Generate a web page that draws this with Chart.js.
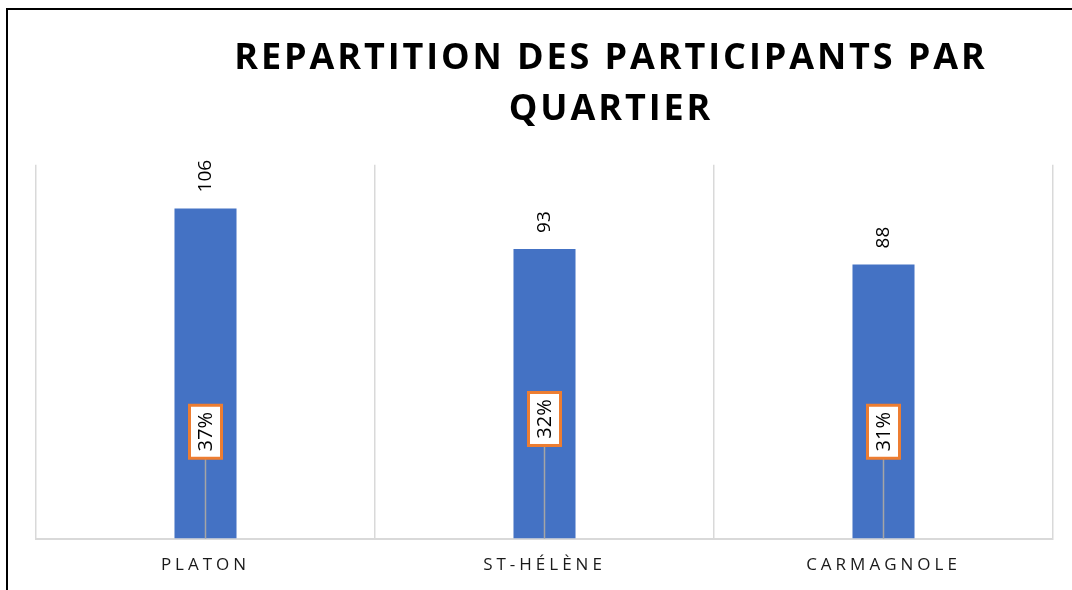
<!DOCTYPE html>
<html>
<head>
<meta charset="utf-8">
<script src="https://cdn.jsdelivr.net/npm/chart.js@4/dist/chart.umd.min.js"></script>
<style>
html, body { margin:0; padding:0; background:#fff; overflow:hidden; width:1072px; height:590px; }
#frame { position:absolute; left:6px; top:8px; border-left:2px solid #000; border-top:2px solid #000; width:1206px; height:582px; }
</style>
</head>
<body>
<div id="frame"><canvas id="myChart" width="1206" height="582"></canvas></div>
<script>
const quartiers = ['PLATON', 'ST-HÉLÈNE', 'CARMAGNOLE']
const participants = [106, 93, 88]
const pourcentages = ['37%', '32%', '31%']
const titre = ['REPARTITION DES PARTICIPANTS PAR', 'QUARTIER']

// where the percentage boxes sit, in axis units (center of the box)
const boxAt = [34.3, 38.4, 34.3]

const labels = {
  id: 'labels',
  beforeDraw(chart) { chart.ctx.letterSpacing = '2.9px' },
  beforeDatasetsDraw(chart) { chart.ctx.letterSpacing = '0px' },
  afterDatasetsDraw(chart) {
    const ctx = chart.ctx
    const y = chart.scales.y
    const base = y.getPixelForValue(0)
    chart.getDatasetMeta(0).data.forEach((bar, i) => {
      // value above the bar
      ctx.save()
      ctx.letterSpacing = '0px'
      ctx.font = '19px "Open Sans"'
      ctx.fillStyle = '#000'
      ctx.translate(bar.x, bar.y - 16)
      ctx.rotate(-Math.PI / 2)
      ctx.textAlign = 'left'
      ctx.textBaseline = 'middle'
      ctx.fillText(String(participants[i]), 0, 0)
      ctx.restore()

      // percentage box with leader line
      const cy = y.getPixelForValue(boxAt[i])
      const w = 32, h = 53
      ctx.save()
      ctx.letterSpacing = '0px'
      ctx.strokeStyle = '#a5a5a5'
      ctx.lineWidth = 1.5
      ctx.beginPath()
      ctx.moveTo(bar.x, cy + h / 2)
      ctx.lineTo(bar.x, base)
      ctx.stroke()
      ctx.fillStyle = '#fff'
      ctx.fillRect(bar.x - w / 2, cy - h / 2, w, h)
      ctx.strokeStyle = '#ED7D31'
      ctx.lineWidth = 3
      ctx.strokeRect(bar.x - w / 2, cy - h / 2, w, h)
      ctx.font = '20px "Open Sans"'
      ctx.fillStyle = '#000'
      ctx.translate(bar.x, cy)
      ctx.rotate(-Math.PI / 2)
      ctx.textAlign = 'center'
      ctx.textBaseline = 'middle'
      ctx.fillText(pourcentages[i], 0, 1)
      ctx.restore()
    })
    ctx.letterSpacing = '4px'
  },
  afterDraw(chart) { chart.ctx.letterSpacing = '0px' }
}

const ctx = document.getElementById('myChart')

let graph = new Chart(ctx, {
  type: 'bar',
  data: {
    labels: quartiers,
    datasets: [{
      data: participants,
      backgroundColor: '#4472C4',
      barPercentage: 0.183,
      categoryPercentage: 1
    }]
  },
  options: {
    responsive: false,
    animation: false,
    layout: { padding: { left: 28, right: 28, top: 0, bottom: 1 } },
    plugins: {
      legend: { display: false },
      tooltip: { enabled: false },
      title: {
        display: true,
        text: titre,
        color: '#000',
        font: { family: '"Open Sans"', size: 36, weight: 'bold', lineHeight: 1.4 },
        padding: { top: 24, bottom: 30 }
      }
    },
    scales: {
      // empty axis on the right, only there to keep room like the original
      y: {
        position: 'right', min: 0, max: 120,
        grid: { display: false }, border: { display: false }, ticks: { display: false },
        afterFit(scale) { scale.width = 133 }
      },
      x: {
        grid: { color: '#d9d9d9', lineWidth: 1.5, drawTicks: false, offset: true },
        border: { color: '#d9d9d9', width: 2 },
        ticks: { color: '#1a1a1a', font: { family: '"Open Sans"', size: 17 }, padding: 16, z: 1 }
      }
    }
  },
  plugins: [labels]
})
</script>
</body>
</html>
